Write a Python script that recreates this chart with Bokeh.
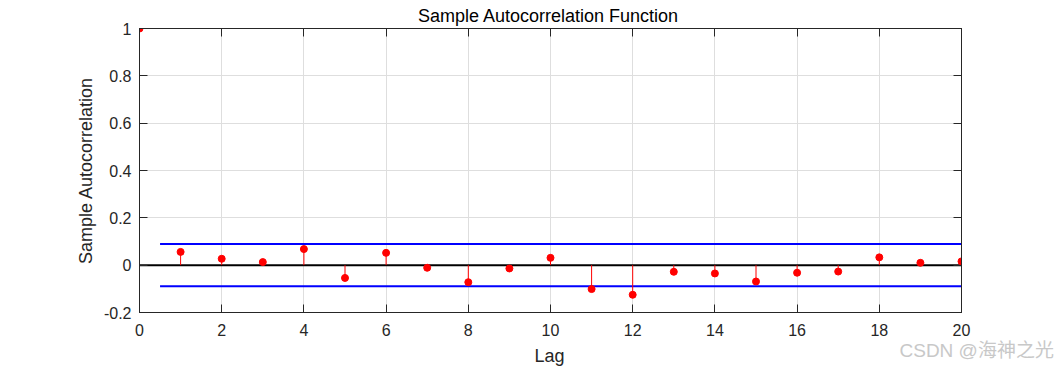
from bokeh.plotting import figure
from bokeh.models import (Range1d, FixedTicker, LinearAxis, CustomJSTickFormatter, Label)
from bokeh.embed import file_html
from bokeh.resources import INLINE

# ---- data ----
lags = list(range(0, 21))
acf = [1.0, 0.056, 0.027, 0.013, 0.068, -0.054, 0.052, -0.011, -0.072, -0.014, 0.031,
       -0.101, -0.125, -0.028, -0.035, -0.069, -0.032, -0.027, 0.033, 0.010, 0.016]
bound = 0.089
bound_x = [0.5, 20]
zero_x = [0, 20]
x_ticks = list(range(0, 21, 2))
y_ticks = [-0.2, 0, 0.2, 0.4, 0.6, 0.8, 1.0]

title_text = "Sample Autocorrelation Function"
xlabel_text = "Lag"
ylabel_text = "Sample Autocorrelation"
watermark_text = "CSDN @海神之光"

FONT = "Liberation Sans"
AX = "#262626"

p = figure(width=1063, height=367, output_backend="svg", toolbar_location=None,
           x_range=Range1d(0, 20), y_range=Range1d(-0.2, 1.0),
           min_border_left=139, min_border_right=102, min_border_top=28, min_border_bottom=55,
           title=None)
p.background_fill_color = "white"
p.border_fill_color = "white"
p.outline_line_color = AX
p.outline_line_width = 1

# grids
p.xgrid.ticker = FixedTicker(ticks=x_ticks)
p.ygrid.ticker = FixedTicker(ticks=y_ticks)
for g in (p.xgrid, p.ygrid):
    g.grid_line_color = "#dedede"
    g.grid_line_width = 1

# axes
def style_axis(ax, ticks, show_labels):
    ax.ticker = FixedTicker(ticks=ticks)
    ax.major_tick_in = 8
    ax.major_tick_out = 0
    ax.minor_tick_in = 0
    ax.minor_tick_out = 0
    ax.axis_line_color = AX
    ax.major_tick_line_color = AX
    ax.major_label_text_font = FONT
    ax.major_label_text_color = AX
    if show_labels:
        ax.major_label_text_font_size = "16px"
    else:
        ax.formatter = CustomJSTickFormatter(code="return ''")
        ax.major_label_text_font_size = "1px"
        ax.major_label_standoff = 0

xb = p.xaxis[0]
style_axis(xb, x_ticks, True)
xb.major_label_standoff = 11

yl = p.yaxis[0]
style_axis(yl, y_ticks, True)
yl.formatter = CustomJSTickFormatter(code="return String(Math.round(tick*10)/10)")
yl.major_label_standoff = 8
yl.axis_label = ylabel_text
yl.axis_label_text_font = FONT
yl.axis_label_text_font_style = "normal"
yl.axis_label_text_font_size = "18px"
yl.axis_label_text_color = AX
yl.axis_label_standoff = 5

xt = LinearAxis()
style_axis(xt, x_ticks, False)
p.add_layout(xt, "above")
yr = LinearAxis()
style_axis(yr, y_ticks, False)
p.add_layout(yr, "right")

# marks
p.line(x=zero_x, y=[0, 0], line_color="black", line_width=2)
p.line(x=bound_x, y=[bound, bound], line_color="#0000ff", line_width=2)
p.line(x=bound_x, y=[-bound, -bound], line_color="#0000ff", line_width=2)
p.segment(x0=lags, y0=[0] * len(lags), x1=lags, y1=acf, line_color="#ff0000", line_width=1)
p.scatter(x=lags, y=acf, size=7, fill_color="#ff0000", line_color="#ff0000")

# texts (placed in side panels with spare room so they are not clipped to the frame)
p.add_layout(Label(x=548, y=15, x_units="canvas", y_units="canvas", text=title_text,
                   text_align="center", text_baseline="middle",
                   text_font=FONT, text_font_size="18px", text_color="black"), "above")
p.add_layout(Label(x=549, y=355, x_units="canvas", y_units="canvas", text=xlabel_text,
                   text_align="center", text_baseline="middle",
                   text_font=FONT, text_font_size="18px", text_color=AX), "left")
p.add_layout(Label(x=899, y=350, x_units="canvas", y_units="canvas", text=watermark_text,
                   text_align="left", text_baseline="middle",
                   text_font="Liberation Sans, Noto Sans CJK SC", text_font_size="19px",
                   text_color="#c8c8c8"), "below")

open("out.html", "w").write(file_html(p, INLINE))
